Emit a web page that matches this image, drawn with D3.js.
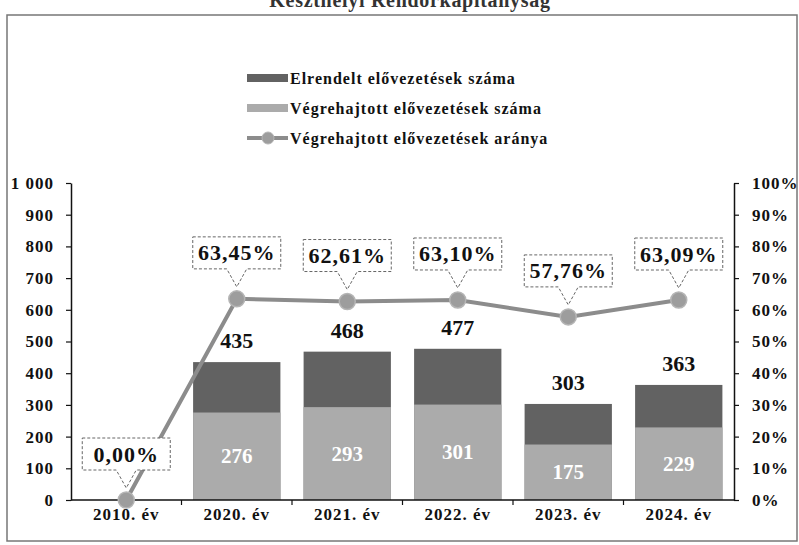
<!DOCTYPE html>
<html>
<head>
<meta charset="utf-8">
<script src="https://cdn.jsdelivr.net/npm/d3@7"></script>
<style>
  html, body { margin: 0; padding: 0; background: #fff; }
  svg { display: block; font-family: "Liberation Serif", "DejaVu Serif", serif; }
</style>
</head>
<body>
<svg id="chart" width="799" height="545"></svg>
<script>
const title = "Keszthelyi Rendőrkapitányság";
const categories = ["2010. év", "2020. év", "2021. év", "2022. év", "2023. év", "2024. év"];
const elrendelt = [0, 435, 468, 477, 303, 363];
const vegrehajtott = [0, 276, 293, 301, 175, 229];
const arany = [0, 63.45, 62.61, 63.10, 57.76, 63.09];
const leftTicks = [0, 100, 200, 300, 400, 500, 600, 700, 800, 900, 1000];
const rightTicks = [0, 0.1, 0.2, 0.3, 0.4, 0.5, 0.6, 0.7, 0.8, 0.9, 1.0];
const seriesNames = ["Elrendelt elővezetések száma", "Végrehajtott elővezetések száma", "Végrehajtott elővezetések aránya"];

const darkCol = "#626262", lightCol = "#ababab", lineCol = "#8c8c8c", markCol = "#9d9d9d";

const svg = d3.select("#chart");
const L = 71, R = 734, T = 183, B = 500;

// frame
svg.append("rect").attr("x", 7).attr("y", 15).attr("width", 790).attr("height", 526)
  .attr("fill", "none").attr("stroke", "#777").attr("stroke-width", 1.5);

// title (cut at top)
svg.append("text").attr("x", 410).attr("y", 7).attr("text-anchor", "middle")
  .attr("font-size", 20).attr("font-weight", "bold").attr("letter-spacing", 0.7)
  .attr("fill", "#333").text(title);

const x = d3.scaleBand().domain(categories).range([L, R]).paddingInner(0.21).paddingOuter(0.105);
const yL = d3.scaleLinear().domain([0, 1000]).range([B, T]);
const yR = d3.scaleLinear().domain([0, 1]).range([B, T]);
const cx = c => x(c) + x.bandwidth() / 2;

// bars
const rows = categories.map((c, i) => ({c, e: elrendelt[i], v: vegrehajtott[i], a: arany[i]}));
svg.append("g").selectAll("rect").data(rows).join("rect")
  .attr("x", d => x(d.c)).attr("width", x.bandwidth())
  .attr("y", d => yL(d.e)).attr("height", d => yL(0) - yL(d.e))
  .attr("fill", darkCol);
svg.append("g").selectAll("rect").data(rows).join("rect")
  .attr("x", d => x(d.c)).attr("width", x.bandwidth())
  .attr("y", d => yL(d.v)).attr("height", d => yL(0) - yL(d.v))
  .attr("fill", lightCol);

// bar labels
svg.append("g").selectAll("text").data(rows.filter(d => d.e > 0)).join("text")
  .attr("x", d => cx(d.c)).attr("y", d => yL(d.e) - 14)
  .attr("text-anchor", "middle").attr("font-size", 22).attr("font-weight", "bold")
  .attr("fill", "#111").text(d => d.e);
svg.append("g").selectAll("text").data(rows.filter(d => d.v > 0)).join("text")
  .attr("x", d => cx(d.c)).attr("y", d => (yL(d.v) + yL(0)) / 2)
  .attr("dominant-baseline", "central")
  .attr("text-anchor", "middle").attr("font-size", 21).attr("font-weight", "bold")
  .attr("fill", "#fff").text(d => d.v);

// axes
const fmtL = d => d >= 1000 ? d3.format(",")(d).replace(",", " ") : String(d);
const gL = svg.append("g").attr("transform", `translate(${L},0)`)
  .call(d3.axisLeft(yL).tickValues(leftTicks).tickFormat(fmtL).tickSize(5).tickSizeOuter(0).tickPadding(12));
const gR = svg.append("g").attr("transform", `translate(${R},0)`)
  .call(d3.axisRight(yR).tickValues(rightTicks).tickFormat(d3.format(".0%")).tickSize(5).tickSizeOuter(0).tickPadding(13));
const gX = svg.append("g").attr("transform", `translate(0,${B})`)
  .call(d3.axisBottom(x).tickSize(0).tickPadding(8));
[gL, gR, gX].forEach(g => {
  g.selectAll("path.domain").attr("stroke", "#111").attr("stroke-width", 1.5);
  g.selectAll("line").attr("stroke", "#111").attr("stroke-width", 1.2);
  g.selectAll("text").attr("font-family", "Liberation Serif, serif").attr("font-weight", "bold")
    .attr("font-size", 17).attr("letter-spacing", 1).attr("fill", "#111");
});
gX.select("path.domain").attr("d", `M${L},0H${R}`);
// category boundary ticks
const step = x.step();
svg.append("g").selectAll("line").data(d3.range(1, categories.length)).join("line")
  .attr("x1", k => x(categories[k]) - (step - x.bandwidth()) / 2)
  .attr("x2", k => x(categories[k]) - (step - x.bandwidth()) / 2)
  .attr("y1", B).attr("y2", B + 5).attr("stroke", "#111").attr("stroke-width", 1.2);

// line
const line = d3.line().x(d => cx(d.c)).y(d => yR(d.a / 100));
svg.append("path").datum(rows).attr("d", line).attr("fill", "none")
  .attr("stroke", lineCol).attr("stroke-width", 4);
svg.append("g").selectAll("circle").data(rows).join("circle")
  .attr("cx", d => cx(d.c)).attr("cy", d => yR(d.a / 100)).attr("r", 8)
  .attr("fill", markCol).attr("stroke", "#b5b5b5").attr("stroke-width", 1.5);

// callouts
const bw = 88, bh = 32;
const callouts = svg.append("g").selectAll("g").data(rows).join("g")
  .attr("transform", d => `translate(${cx(d.c)},${yR(d.a / 100)})`);
callouts.append("path")
  .attr("d", () => {
    const bot = -30, top = bot - bh, h = bw / 2;
    return `M${-h},${top}H${h}V${bot}H10L0,${-12}L-10,${bot}H${-h}Z`;
  })
  .attr("fill", "#fff").attr("stroke", "#666").attr("stroke-width", 1).attr("stroke-dasharray", "3,2");
callouts.append("text").attr("x", 0).attr("y", -30 - bh / 2)
  .attr("dominant-baseline", "central").attr("text-anchor", "middle")
  .attr("font-size", 22).attr("font-weight", "bold").attr("letter-spacing", 1).attr("fill", "#111")
  .text(d => d.a.toFixed(2).replace(".", ",") + "%");

// legend
const lg = svg.append("g").attr("transform", "translate(247,0)");
const ly = [78, 108, 138];
lg.append("rect").attr("x", 0).attr("y", ly[0] - 4).attr("width", 41).attr("height", 8).attr("fill", darkCol);
lg.append("rect").attr("x", 0).attr("y", ly[1] - 4).attr("width", 41).attr("height", 8).attr("fill", lightCol);
lg.append("line").attr("x1", 0).attr("x2", 41).attr("y1", ly[2]).attr("y2", ly[2])
  .attr("stroke", lineCol).attr("stroke-width", 4);
lg.append("circle").attr("cx", 21).attr("cy", ly[2]).attr("r", 6).attr("fill", markCol).attr("stroke", "#b5b5b5");
lg.selectAll("text").data(seriesNames).join("text")
  .attr("x", 43).attr("y", (d, i) => ly[i]).attr("dominant-baseline", "central")
  .attr("font-size", 16).attr("font-weight", "bold").attr("letter-spacing", 1).attr("fill", "#111")
  .text(d => d);
</script>
</body>
</html>
